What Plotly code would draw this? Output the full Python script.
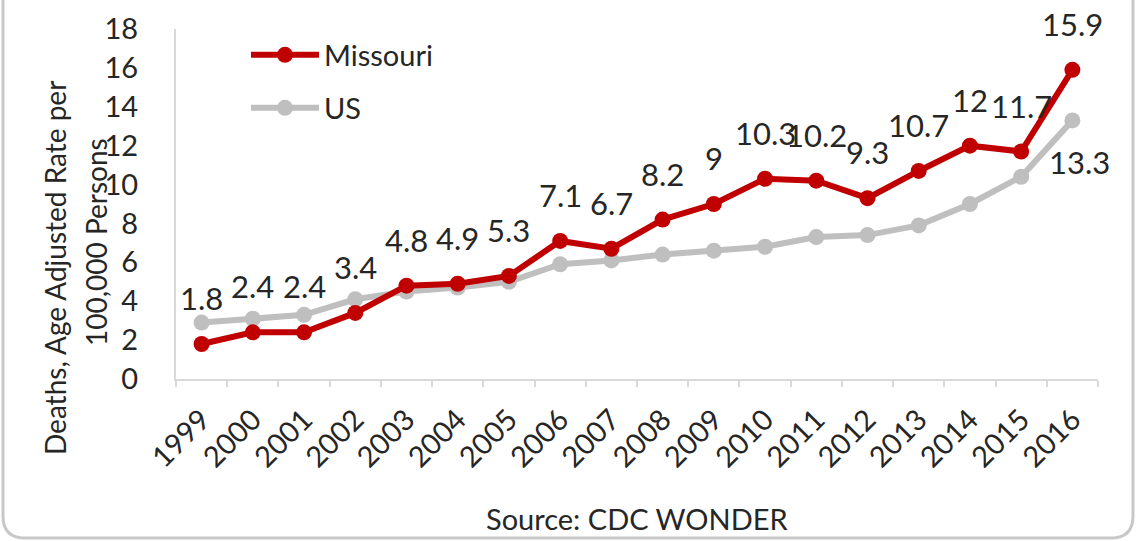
import plotly.graph_objects as go

years = [str(y) for y in range(1999, 2017)]
missouri = [1.8, 2.4, 2.4, 3.4, 4.8, 4.9, 5.3, 7.1, 6.7, 8.2, 9.0, 10.3, 10.2, 9.3, 10.7, 12.0, 11.7, 15.9]
us = [2.9, 3.1, 3.3, 4.1, 4.5, 4.7, 5.0, 5.9, 6.1, 6.4, 6.6, 6.8, 7.3, 7.4, 7.9, 9.0, 10.4, 13.3]
missouri_labels = ["1.8", "2.4", "2.4", "3.4", "4.8", "4.9", "5.3", "7.1", "6.7", "8.2", "9",
                   "10.3", "10.2", "9.3", "10.7", "12", "11.7", "15.9"]
title_lines = ["Deaths, Age Adjusted Rate per", "100,000 Persons"]
source_text = "Source: CDC WONDER"

FONT = "Lato"
TXT = "#262626"
RED = "#C00000"
GREY = "#BFBFBF"

# plot area in pixels
PL, PR, PT, PB = 176, 1098, 29, 379
W, H = 1140, 541


def px(x):
    return (x - PL) / (PR - PL)


def py(y):
    return (PB - y) / (PB - PT)


fig = go.Figure()
fig.add_trace(go.Scatter(x=years, y=us, name="US", mode="lines+markers",
                         line=dict(color=GREY, width=6), marker=dict(size=16, color=GREY),
                         legend="legend2", showlegend=True))
fig.add_trace(go.Scatter(x=years, y=missouri, name="Missouri", mode="lines+markers",
                         line=dict(color=RED, width=6), marker=dict(size=16, color=RED),
                         legend="legend", showlegend=True))

annotations = []
for i, (v, lab) in enumerate(zip(missouri, missouri_labels)):
    annotations.append(dict(x=i, y=v, text=lab, showarrow=False, yshift=46,
                            xanchor="center", yanchor="middle",
                            font=dict(family=FONT, size=31, color=TXT)))
annotations.append(dict(x=len(years) - 1, y=us[-1], text="13.3", showarrow=False, yshift=-42, xshift=7,
                        xanchor="center", yanchor="middle",
                        font=dict(family=FONT, size=31, color=TXT)))
for (cx, cy), t in zip([(55, 268), (96, 242)], title_lines):
    annotations.append(dict(x=px(cx), y=py(cy), xref="paper", yref="paper",
                            textangle=-90, xanchor="center", yanchor="middle",
                            text=t, showarrow=False,
                            font=dict(family=FONT, size=28, color=TXT)))
annotations.append(dict(x=px(637), y=py(518), xref="paper", yref="paper",
                        xanchor="center", yanchor="middle",
                        text=source_text, showarrow=False,
                        font=dict(family=FONT, size=29, color=TXT)))

# rounded frame
xL, xR = px(3), px(1133)
yB, yT = py(538), py(-10)
rx, ry = 22 / (PR - PL), 22 / (PB - PT)
path = (f"M {xL},{yT} L {xL},{yB + ry} Q {xL},{yB} {xL + rx},{yB} "
        f"L {xR - rx},{yB} Q {xR},{yB} {xR},{yB + ry} L {xR},{yT}")

fig.update_layout(
    width=W, height=H,
    margin=dict(l=PL, r=W - PR, t=PT, b=H - PB),
    paper_bgcolor="white", plot_bgcolor="white",
    font=dict(family=FONT, size=24, color=TXT),
    showlegend=True,
    annotations=annotations,
    shapes=[dict(type="path", path=path, xref="paper", yref="paper",
                 line=dict(color="#C8C8C8", width=3), layer="below")],
    legend=dict(x=px(246), y=py(55), xanchor="left", yanchor="middle", bgcolor="rgba(0,0,0,0)",
                font=dict(family=FONT, size=29, color=TXT), itemwidth=68),
    legend2=dict(x=px(246), y=py(108), xanchor="left", yanchor="middle", bgcolor="rgba(0,0,0,0)",
                 font=dict(family=FONT, size=29, color=TXT), itemwidth=68),
    xaxis=dict(type="category", range=[-0.5, 17.5], showline=True, linecolor="#D9D9D9",
               linewidth=2, ticks="outside", tickson="boundaries", ticklen=6,
               tickcolor="#D9D9D9", tickwidth=2, tickangle=-45, showgrid=False, automargin=False,
               ticklabelstandoff=10,
               tickfont=dict(family=FONT, size=29, color=TXT)),
    yaxis=dict(range=[0, 18], dtick=2, showline=True, linecolor="#D9D9D9", linewidth=2,
               showgrid=False, zeroline=False, ticks="", ticklabelstandoff=30, automargin=False,
               tickfont=dict(family=FONT, size=29, color=TXT)),
)

fig.write_html("out.html", config={"displayModeBar": False},
               post_script="document.body.style.margin='0';document.body.style.overflow='hidden';")
